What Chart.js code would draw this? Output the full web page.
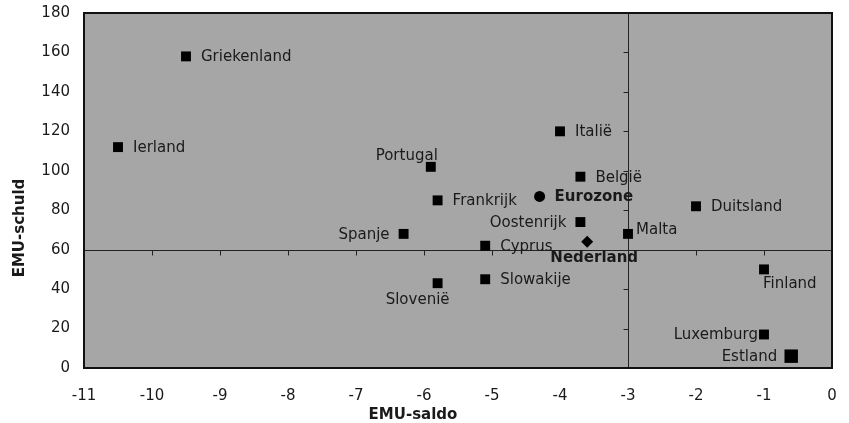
<!DOCTYPE html>
<html>
<head>
<meta charset="utf-8">
<script src="https://cdn.jsdelivr.net/npm/chart.js@4"></script>
<style>
  html, body { margin: 0; padding: 0; background: #fff; }
  #wrap { width: 849px; height: 423px; }
</style>
</head>
<body>
<div id="wrap"><canvas id="c" width="849" height="423"></canvas></div>
<script>
// ---- data ----
const countries = ['Griekenland', 'Ierland', 'Portugal', 'Italië', 'België', 'Frankrijk',
  'Oostenrijk', 'Malta', 'Spanje', 'Cyprus', 'Duitsland', 'Slovenië', 'Slowakije',
  'Finland', 'Luxemburg', 'Estland'];
const saldo = [-9.5, -10.5, -5.9, -4.0, -3.7, -5.8, -3.7, -3.0, -6.3, -5.1, -2.0, -5.8, -5.1, -1.0, -1.0, -0.6];
const schuld = [158, 112, 102, 120, 97, 85, 74, 68, 68, 62, 82, 43, 45, 50, 17, 6];
const euroLabel = ['Eurozone'];
const euroSaldo = [-4.3];
const euroSchuld = [87];
const nlLabel = ['Nederland'];
const nlSaldo = [-3.6];
const nlSchuld = [64];
const xTicks = [-11, -10, -9, -8, -7, -6, -5, -4, -3, -2, -1, 0];
const yTicks = [0, 20, 40, 60, 80, 100, 120, 140, 160, 180];
const refX = -3;   // vertical reference line
const refY = 60;   // horizontal reference line
const xTitle = 'EMU-saldo';
const yTitle = 'EMU-schuld';

// where each label sits relative to its marker
const labelPos = {
  'Griekenland': 'right', 'Ierland': 'right', 'Portugal': 'aboveLeft', 'Italië': 'right',
  'België': 'right', 'Frankrijk': 'right', 'Oostenrijk': 'left', 'Malta': 'rightUp',
  'Spanje': 'left', 'Cyprus': 'right', 'Duitsland': 'right', 'Slovenië': 'below',
  'Slowakije': 'right', 'Finland': 'belowRight', 'Luxemburg': 'leftNear', 'Estland': 'left',
  'Eurozone': 'right', 'Nederland': 'belowNl'
};

const FONT = 'DejaVu Sans, Verdana, sans-serif';
const TXT = '#1a1a1a';

const toPts = (xs, ys) => xs.map((x, i) => ({ x, y: ys[i] }));

const plotDecor = {
  id: 'plotDecor',
  beforeDatasetsDraw(chart) {
    const { ctx, chartArea: a, scales: { x, y } } = chart;
    ctx.save();
    ctx.fillStyle = '#a6a6a6';
    ctx.fillRect(a.left, a.top, a.right - a.left, a.bottom - a.top);
    // reference lines with their own tick marks
    const px = Math.round(x.getPixelForValue(refX)) + 0.5;
    const py = Math.round(y.getPixelForValue(refY)) + 0.5;
    ctx.strokeStyle = '#222';
    ctx.lineWidth = 1;
    ctx.beginPath();
    ctx.moveTo(a.left, py); ctx.lineTo(a.right, py);
    ctx.moveTo(px, a.top); ctx.lineTo(px, a.bottom);
    xTicks.forEach(v => {
      const tx = Math.round(x.getPixelForValue(v)) + 0.5;
      ctx.moveTo(tx, py); ctx.lineTo(tx, py + 5);
    });
    yTicks.forEach(v => {
      const ty = Math.round(y.getPixelForValue(v)) + 0.5;
      ctx.moveTo(px, ty); ctx.lineTo(px - 5, ty);
    });
    ctx.stroke();
    // frame
    ctx.lineWidth = 2;
    ctx.strokeStyle = '#111';
    ctx.strokeRect(a.left, a.top, a.right - a.left, a.bottom - a.top);

    // axis titles
    ctx.fillStyle = TXT;
    ctx.font = 'bold 15px ' + FONT;
    ctx.textAlign = 'center';
    ctx.textBaseline = 'middle';
    ctx.fillText(xTitle, 413, 415);
    ctx.translate(20, 228);
    ctx.rotate(-Math.PI / 2);
    ctx.fillText(yTitle, 0, 0);
    ctx.restore();
  },
  afterDatasetsDraw(chart) {
    const { ctx } = chart;
    ctx.save();
    ctx.fillStyle = TXT;
    chart.data.datasets.forEach((ds, di) => {
      const meta = chart.getDatasetMeta(di);
      meta.data.forEach((pt, i) => {
        const name = ds.labels[i];
        const pos = labelPos[name] || 'right';
        ctx.font = (ds.bold ? 'bold ' : '') + '15px ' + FONT;
        ctx.textBaseline = 'middle';
        let tx = pt.x, ty = pt.y;
        if (pos === 'right') { ctx.textAlign = 'left'; tx += 15; ty += 1; }
        else if (pos === 'rightUp') { ctx.textAlign = 'left'; tx += 8; ty -= 4; }
        else if (pos === 'left') { ctx.textAlign = 'right'; tx -= 14; ty += 1; }
        else if (pos === 'leftNear') { ctx.textAlign = 'right'; tx -= 6; ty += 1; }
        else if (pos === 'aboveLeft') { ctx.textAlign = 'right'; tx += 7; ty -= 11; }
        else if (pos === 'below') { ctx.textAlign = 'center'; tx -= 20; ty += 17; }
        else if (pos === 'belowNl') { ctx.textAlign = 'center'; tx += 7; ty += 16; }
        else if (pos === 'belowRight') { ctx.textAlign = 'left'; tx -= 1; ty += 15; }
        ctx.fillText(name, tx, ty);
      });
    });
    ctx.restore();
  }
};

new Chart(document.getElementById('c'), {
  type: 'scatter',
  data: {
    datasets: [
      {
        labels: countries,
        data: toPts(saldo, schuld),
        pointStyle: 'rect',
        pointRadius: ctx => countries[ctx.dataIndex] === 'Estland' ? 9.5 : 7,
        backgroundColor: '#000',
        borderColor: '#000',
        borderWidth: 0
      },
      {
        labels: euroLabel,
        bold: true,
        data: toPts(euroSaldo, euroSchuld),
        pointStyle: 'circle',
        pointRadius: 5.5,
        backgroundColor: '#000',
        borderColor: '#000',
        borderWidth: 0
      },
      {
        labels: nlLabel,
        bold: true,
        data: toPts(nlSaldo, nlSchuld),
        pointStyle: 'rectRot',
        pointRadius: 6,
        backgroundColor: '#000',
        borderColor: '#000',
        borderWidth: 0
      }
    ]
  },
  options: {
    responsive: false,
    animation: false,
    layout: { padding: { left: 0, right: 17, top: 13, bottom: 0 } },
    plugins: { legend: { display: false }, tooltip: { enabled: false } },
    scales: {
      x: {
        type: 'linear', min: -11, max: 0,
        afterBuildTicks: s => { s.ticks = xTicks.map(v => ({ value: v })); },
        grid: { display: false, drawTicks: false },
        border: { display: false },
        ticks: { color: TXT, font: { family: FONT, size: 15 }, padding: 19, maxRotation: 0 },
        afterFit: s => { s.height = 55; s.paddingLeft = 0; s.paddingRight = 0; }
      },
      y: {
        type: 'linear', min: 0, max: 180,
        afterBuildTicks: s => { s.ticks = yTicks.map(v => ({ value: v })); },
        grid: { display: false, drawTicks: false },
        border: { display: false },
        ticks: { color: TXT, font: { family: FONT, size: 15 }, padding: 14 },
        afterFit: s => { s.width = 84; s.paddingTop = 0; s.paddingBottom = 0; }
      }
    }
  },
  plugins: [plotDecor]
});
</script>
</body>
</html>
